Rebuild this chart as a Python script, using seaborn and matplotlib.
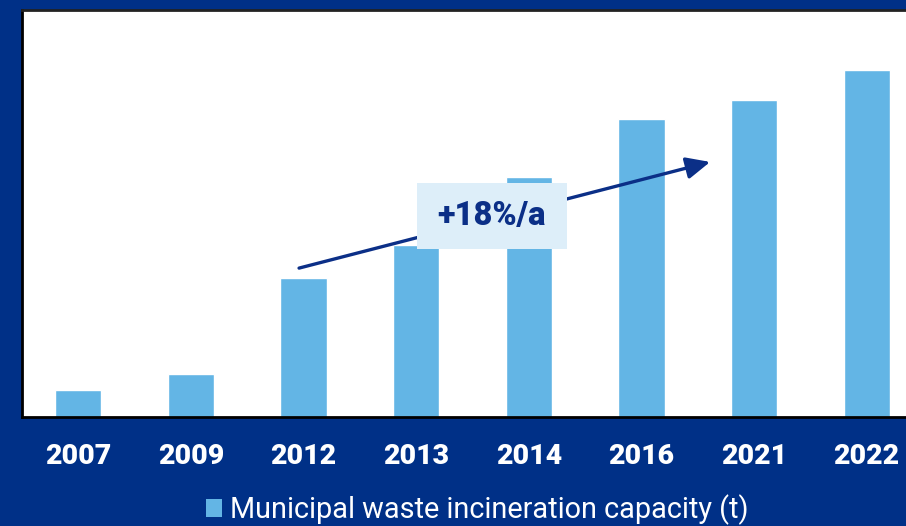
import matplotlib
matplotlib.use("Agg")
import matplotlib.pyplot as plt
from matplotlib.patches import Patch, Rectangle
import seaborn as sns
import pandas as pd

# Municipal waste incineration capacity by year
years = ["2007", "2009", "2012", "2013", "2014", "2016", "2021", "2022"]
capacity = [8.0, 12.7, 41.0, 50.7, 70.8, 87.9, 93.5, 102.3]
series_label = "Municipal waste incineration capacity (t)"
growth_label = "+18%/a"

NAVY = "#003087"
BAR = "#63B5E5"
BOX = "#DDEEF9"
INK = "#0B2F87"

sns.set_theme(style="white")
plt.rcParams["font.family"] = ["Roboto", "DejaVu Sans"]

df = pd.DataFrame({"year": years, "capacity": capacity})

fig = plt.figure(figsize=(9.06, 5.26), dpi=100, facecolor=NAVY)
ax = fig.add_axes([22 / 906, 109 / 526, 901 / 906, 407 / 526])
ax.set_facecolor("white")

sns.barplot(data=df, x="year", y="capacity", color=BAR, width=0.41,
            saturation=1, ax=ax, zorder=2)
ax.set_ylim(0, 120)
ax.set_xlim(-0.5, len(years) - 0.5)
ax.set_xlabel("")
ax.set_ylabel("")
ax.set_yticks([])
ax.tick_params(axis="x", length=0, pad=19, labelsize=20.5, labelcolor="white")
for lbl in ax.get_xticklabels():
    lbl.set_fontweight("black")

for side in ("left", "bottom", "top"):
    ax.spines[side].set_visible(True)
    ax.spines[side].set_color("black")
    ax.spines[side].set_linewidth(2)
ax.spines["top"].set_color("#222222")
ax.spines["right"].set_visible(False)

# Growth trend arrow with its callout box
ax.annotate("", xy=(5.61, 75.2), xytext=(1.96, 43.9),
            arrowprops=dict(arrowstyle="-|>,head_length=1.2,head_width=0.55",
                            color=INK, lw=2.4, shrinkA=0, shrinkB=0),
            zorder=3)
ax.add_patch(Rectangle((3.008, 49.5), 1.331, 19.5, facecolor=BOX,
                       edgecolor="none", zorder=4))
ax.text(3.673, 59.3, growth_label, ha="center", va="center", fontsize=23.5,
        fontweight="black", color=INK, zorder=5)

handle = Patch(facecolor=BAR, edgecolor="none")
fig.legend([handle], [series_label], loc="lower center",
           bbox_to_anchor=(0.527, -0.048), frameon=False, fontsize=20.8,
           labelcolor="white", handlelength=0.55, handleheight=0.55,
           handletextpad=0.3)

fig.savefig("out.png", dpi=100, facecolor=NAVY)
